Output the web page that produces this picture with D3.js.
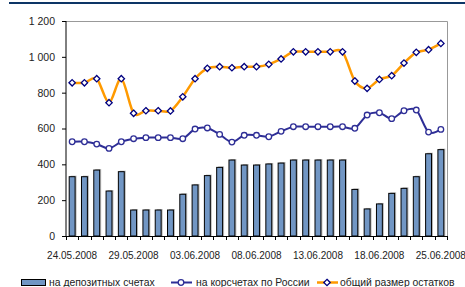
<!DOCTYPE html>
<meta charset="utf-8">
<head>
<style>
body { margin: 0; background: #fff; }
svg text { font-family: Arial, "Liberation Sans", sans-serif; fill: #222; }
.axis-y text { font-size: 10.5px; }
.axis-x text { font-size: 10px; }
.legend text { font-size: 10.4px; }
</style>
</head>
<body>
<script src="https://d3js.org/d3.v7.min.js"></script>
<script>

// dates on the category axis (working days, weekend 21-22.06 skipped)
var dates = ["24.05.2008","25.05.2008","26.05.2008","27.05.2008","28.05.2008",
  "29.05.2008","30.05.2008","31.05.2008","01.06.2008","02.06.2008",
  "03.06.2008","04.06.2008","05.06.2008","06.06.2008","07.06.2008",
  "08.06.2008","09.06.2008","10.06.2008","11.06.2008","12.06.2008",
  "13.06.2008","14.06.2008","15.06.2008","16.06.2008","17.06.2008",
  "18.06.2008","19.06.2008","20.06.2008","23.06.2008","24.06.2008","25.06.2008"];

// на депозитных счетах
var deposits = [331,331,368,251,359,145,145,145,145,233,285,337,383,424,396,
  396,402,407,424,424,424,424,424,260,151,179,238,266,331,459,482];

// на корсчетах по России
var corr = [526,526,513,489,526,543,549,549,549,543,597,603,567,524,562,
  562,554,584,610,610,610,610,610,601,675,688,655,699,703,580,595];

// общий размер остатков
var total = [855,855,878,744,878,685,699,699,698,777,878,936,945,939,945,
  945,958,988,1028,1028,1028,1028,1028,865,824,874,895,965,1025,1040,1075];

var yTicks = [0,200,400,600,800,1000,1200];
var labelEvery = 5;
var seriesNames = ["на депозитных счетах","на корсчетах по России","общий размер остатков"];

var width = 465, height = 287,
    plotL = 66, plotR = 447, plotT = 21, plotB = 236;

var svg = d3.select("body").append("svg")
    .attr("width", width)
    .attr("height", height);

// dark rule at the very top
svg.append("line")
    .attr("x1", 9).attr("x2", width)
    .attr("y1", 3).attr("y2", 3)
    .attr("stroke", "#0d3566")
    .attr("stroke-width", 2);

var x = d3.scaleBand()
    .domain(dates)
    .range([plotL, plotR])
    .padding(0);

var y = d3.scaleLinear()
    .domain([0, 1200])
    .range([plotB, plotT]);

var cx = function(d) { return x(d) + x.bandwidth() / 2; };

// plot frame (top and right, light grey)
svg.append("path")
    .attr("d", "M" + plotL + "," + (plotT + 0.5) + "H" + (plotR + 0.5) + "V" + plotB)
    .attr("fill", "none")
    .attr("stroke", "#999")
    .attr("stroke-width", 1);

// bars
var bw = x.bandwidth() * 0.48;
var bars = svg.append("g");
bars.selectAll("rect.shadow")
    .data(deposits)
  .enter().append("rect")
    .attr("class", "shadow")
    .attr("x", function(d, i) { return cx(dates[i]) - bw / 2 + 1.5; })
    .attr("y", function(d) { return y(d) - 1; })
    .attr("width", bw)
    .attr("height", function(d) { return plotB - y(d) + 1; })
    .attr("fill", "#888")
    .attr("opacity", 0.6);

bars.selectAll("rect.bar")
    .data(deposits)
  .enter().append("rect")
    .attr("class", "bar")
    .attr("x", function(d, i) { return cx(dates[i]) - bw / 2; })
    .attr("y", function(d) { return y(d); })
    .attr("width", bw)
    .attr("height", function(d) { return plotB - y(d); })
    .attr("fill", "#7196c4")
    .attr("stroke", "#000")
    .attr("stroke-width", 1);

// y axis
var yAxis = svg.append("g")
    .attr("class", "axis-y")
    .attr("transform", "translate(" + plotL + ",0)")
    .call(d3.axisLeft(y)
      .tickValues(yTicks)
      .tickSize(4)
      .tickPadding(7)
      .tickFormat(function(d) { return d3.format(",")(d).replace(",", " "); }));
yAxis.select(".domain").attr("stroke", "#000").attr("d", "M0," + plotT + "V" + (plotB + 0.5));
yAxis.selectAll(".tick line").attr("stroke", "#000");
yAxis.selectAll("text").attr("fill", "#222");

// x axis with ticks between categories
var xAxis = svg.append("g")
    .attr("class", "axis-x")
    .attr("transform", "translate(0," + plotB + ")");
xAxis.append("line")
    .attr("x1", plotL).attr("x2", plotR)
    .attr("y1", 0.5).attr("y2", 0.5)
    .attr("stroke", "#000");
xAxis.selectAll("line.tk")
    .data(dates.concat([null]))
  .enter().append("line")
    .attr("class", "tk")
    .attr("x1", function(d) { return d ? Math.round(x(d)) + 0.5 : plotR + 0.5; })
    .attr("x2", function(d) { return d ? Math.round(x(d)) + 0.5 : plotR + 0.5; })
    .attr("y1", 0).attr("y2", 4)
    .attr("stroke", "#000");
xAxis.selectAll("text")
    .data(dates.filter(function(d, i) { return i % labelEvery === 0; }))
  .enter().append("text")
    .attr("x", cx)
    .attr("y", 23)
    .attr("text-anchor", "middle")
    .text(function(d) { return d; });

var curve = d3.curveCardinal.tension(0.1);

var line = d3.line()
    .x(function(d, i) { return cx(dates[i]); })
    .y(function(d) { return y(d); })
    .curve(curve);

// corr. accounts line
svg.append("path")
    .datum(corr)
    .attr("d", line)
    .attr("fill", "none")
    .attr("stroke", "#2e2e96")
    .attr("stroke-width", 2);

svg.append("g").selectAll("circle")
    .data(corr)
  .enter().append("circle")
    .attr("cx", function(d, i) { return cx(dates[i]); })
    .attr("cy", function(d) { return y(d); })
    .attr("r", 2.8)
    .attr("fill", "#fff")
    .attr("stroke", "#2e2e96")
    .attr("stroke-width", 1.3);

// total line
svg.append("path")
    .datum(total)
    .attr("d", line)
    .attr("fill", "none")
    .attr("stroke", "#ff9a00")
    .attr("stroke-width", 2.5);

var diamond = d3.symbol().type(d3.symbolDiamond2).size(26);
svg.append("g").selectAll("path")
    .data(total)
  .enter().append("path")
    .attr("transform", function(d, i) { return "translate(" + cx(dates[i]) + "," + y(d) + ")"; })
    .attr("d", diamond)
    .attr("fill", "#fff")
    .attr("stroke", "#000080")
    .attr("stroke-width", 1.3);

// legend
var legend = svg.append("g").attr("class", "legend");
var ly = 282.5;

legend.append("rect")
    .attr("x", 21.5).attr("y", 279.5)
    .attr("width", 24).attr("height", 6)
    .attr("fill", "#7196c4")
    .attr("stroke", "#000");
legend.append("text")
    .attr("x", 49).attr("y", ly).attr("dy", "0.35em")
    .text(seriesNames[0]);

legend.append("line")
    .attr("x1", 171).attr("x2", 192)
    .attr("y1", ly).attr("y2", ly)
    .attr("stroke", "#2e2e96").attr("stroke-width", 2);
legend.append("circle")
    .attr("cx", 181).attr("cy", ly).attr("r", 2.8)
    .attr("fill", "#fff").attr("stroke", "#2e2e96").attr("stroke-width", 1.3);
legend.append("text")
    .attr("x", 196).attr("y", ly).attr("dy", "0.35em")
    .text(seriesNames[1]);

legend.append("line")
    .attr("x1", 317).attr("x2", 338)
    .attr("y1", ly).attr("y2", ly)
    .attr("stroke", "#ff9a00").attr("stroke-width", 2.5);
legend.append("path")
    .attr("transform", "translate(327," + ly + ")")
    .attr("d", diamond)
    .attr("fill", "#fff").attr("stroke", "#000080").attr("stroke-width", 1.3);
legend.append("text")
    .attr("x", 340).attr("y", ly).attr("dy", "0.35em")
    .text(seriesNames[2]);

</script>
</body>
